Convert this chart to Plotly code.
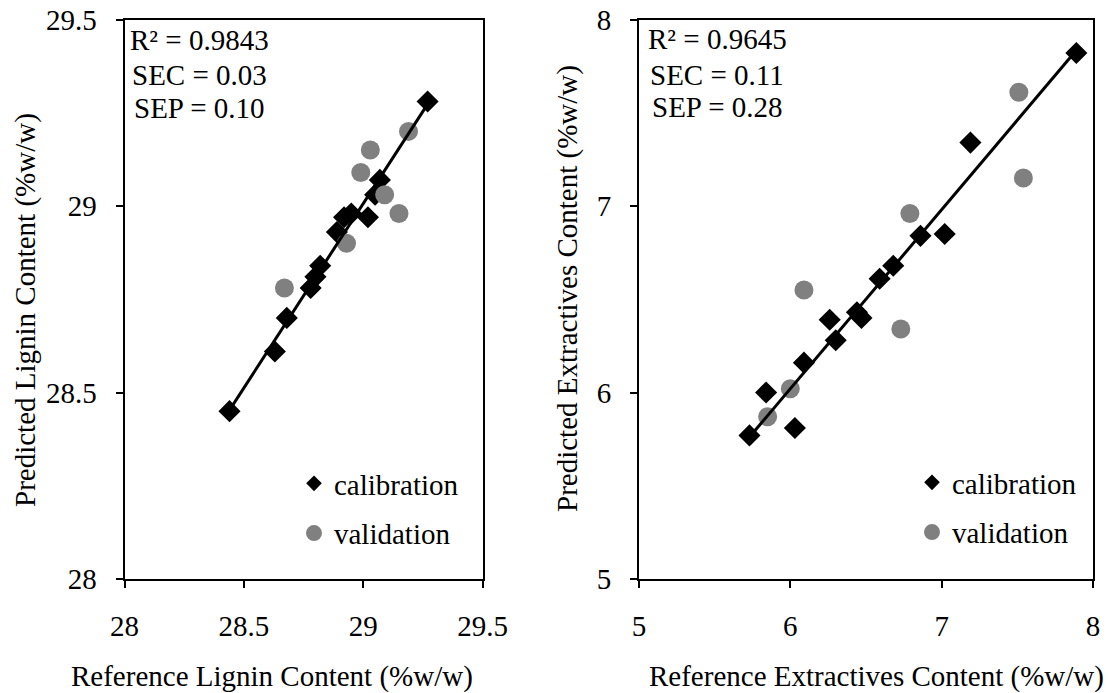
import numpy as np
import plotly.graph_objects as go

# Lignin content (%w/w): reference vs NIR-predicted
lignin_cal_ref = [28.44, 28.63, 28.68, 28.78, 28.80, 28.82, 28.89, 28.92, 28.95, 29.02, 29.05, 29.07, 29.27]
lignin_cal_pred = [28.45, 28.61, 28.70, 28.78, 28.81, 28.84, 28.93, 28.97, 28.98, 28.97, 29.03, 29.07, 29.28]
lignin_val_ref = [28.67, 28.93, 28.99, 29.03, 29.09, 29.15, 29.19]
lignin_val_pred = [28.78, 28.90, 29.09, 29.15, 29.03, 28.98, 29.20]

# Extractives content (%w/w): reference vs NIR-predicted
extr_cal_ref = [5.73, 5.84, 6.03, 6.09, 6.26, 6.30, 6.44, 6.47, 6.59, 6.68, 6.86, 7.02, 7.19, 7.89]
extr_cal_pred = [5.77, 6.00, 5.81, 6.16, 6.39, 6.28, 6.43, 6.40, 6.61, 6.68, 6.84, 6.85, 7.34, 7.82]
extr_val_ref = [5.85, 6.00, 6.09, 6.73, 6.79, 7.51, 7.54]
extr_val_pred = [5.87, 6.02, 6.55, 6.34, 6.96, 7.61, 7.15]

lignin_stats = ["R² = 0.9843", "SEC = 0.03", "SEP = 0.10"]
extr_stats = ["R² = 0.9645", "SEC = 0.11", "SEP = 0.28"]

lignin_ticks = [28, 28.5, 29, 29.5]
extr_ticks = [5, 6, 7, 8]

FONT = "Liberation Serif, Times New Roman, serif"
FS = 29
W, H = 1110, 693
GRAY = "#808080"


def px_x(p):
    return p / W


def px_y(p):
    return 1 - p / H


def fit_line(xs, ys):
    slope, intercept = np.polyfit(xs, ys, 1)
    x0, x1 = min(xs), max(xs)
    return [x0, x1], [slope * x0 + intercept, slope * x1 + intercept]


fig = go.Figure()


def add_panel(cal_x, cal_y, val_x, val_y, xa, ya, legend):
    fig.add_trace(go.Scatter(x=cal_x, y=cal_y, mode="markers", xaxis=xa, yaxis=ya,
                             marker=dict(symbol="diamond", size=17, color="black"),
                             showlegend=False, hoverinfo="x+y"))
    fig.add_trace(go.Scatter(x=val_x, y=val_y, mode="markers", xaxis=xa, yaxis=ya,
                             marker=dict(symbol="circle", size=19, color=GRAY),
                             showlegend=False, hoverinfo="x+y"))
    lx, ly = fit_line(cal_x, cal_y)
    fig.add_trace(go.Scatter(x=lx, y=ly, mode="lines", xaxis=xa, yaxis=ya,
                             line=dict(color="black", width=3),
                             showlegend=False, hoverinfo="skip"))
    # legend-only entries
    fig.add_trace(go.Scatter(x=[None], y=[None], mode="markers", xaxis=xa, yaxis=ya,
                             marker=dict(symbol="diamond", size=12, color="black"),
                             name="calibration", legend=legend, legendgroup=legend + "c"))
    fig.add_trace(go.Scatter(x=[None], y=[None], mode="markers", xaxis=xa, yaxis=ya,
                             marker=dict(symbol="circle", size=17, color=GRAY),
                             name="validation", legend=legend, legendgroup=legend + "v"))


add_panel(lignin_cal_ref, lignin_cal_pred, lignin_val_ref, lignin_val_pred, "x", "y", "legend")
add_panel(extr_cal_ref, extr_cal_pred, extr_val_ref, extr_val_pred, "x2", "y2", "legend2")

axis_common = dict(showline=True, linecolor="black", linewidth=2, mirror=True,
                   ticks="outside", ticklen=7, tickwidth=2, tickcolor="black",
                   showgrid=False, zeroline=False, automargin=False,
                   tickfont=dict(family=FONT, size=FS, color="black"))

ydom = [px_y(579), px_y(19.5)]

legend_common = dict(font=dict(family=FONT, size=FS, color="black"), bgcolor="rgba(0,0,0,0)",
                     xanchor="left", yanchor="top", tracegroupgap=9, itemsizing="trace",
                     traceorder="grouped")

fig.update_layout(
    template="none",
    width=W, height=H, autosize=False,
    margin=dict(l=0, r=0, t=0, b=0, pad=0, autoexpand=False),
    paper_bgcolor="white", plot_bgcolor="white",
    font=dict(family=FONT, size=FS, color="black"),
    xaxis=dict(domain=[px_x(124.5), px_x(482.5)], range=[28, 29.5], tickvals=lignin_ticks,
               anchor="y", ticklabelstandoff=13, **axis_common),
    yaxis=dict(domain=ydom, range=[28, 29.5], tickvals=lignin_ticks, anchor="x",
               ticklabelstandoff=13, **axis_common),
    xaxis2=dict(domain=[px_x(639), px_x(1093)], range=[5, 8], tickvals=extr_ticks,
                anchor="y2", ticklabelstandoff=13, **axis_common),
    yaxis2=dict(domain=ydom, range=[5, 8], tickvals=extr_ticks, anchor="x2",
                ticklabelstandoff=13, **axis_common),
    legend=dict(x=px_x(294), y=px_y(458), **legend_common),
    legend2=dict(x=px_x(912), y=px_y(457), **legend_common),
)

# statistics text blocks
for txt, yb in zip(lignin_stats, [49, 84, 117]):
    fig.add_annotation(text=txt, xref="paper", yref="paper", x=px_x(199.5), y=px_y(yb - 9),
                       xanchor="center", yanchor="middle", showarrow=False,
                       font=dict(family=FONT, size=FS, color="black"))
for txt, yb in zip(extr_stats, [48, 84, 116]):
    fig.add_annotation(text=txt, xref="paper", yref="paper", x=px_x(717), y=px_y(yb - 9),
                       xanchor="center", yanchor="middle", showarrow=False,
                       font=dict(family=FONT, size=FS, color="black"))

# axis titles
fig.add_annotation(text="Reference Lignin Content (%w/w)", xref="paper", yref="paper",
                   x=px_x(69), y=px_y(676), xanchor="left", yanchor="middle", showarrow=False,
                   font=dict(family=FONT, size=FS, color="black"))
fig.add_annotation(text="Reference Extractives Content (%w/w)", xref="paper", yref="paper",
                   x=px_x(647), y=px_y(676), xanchor="left", yanchor="middle", showarrow=False,
                   font=dict(family=FONT, size=FS, color="black"))
fig.add_annotation(text="Predicted Lignin Content (%w/w)", xref="paper", yref="paper",
                   x=px_x(25), y=px_y(310), xanchor="center", yanchor="middle", textangle=-90,
                   showarrow=False, font=dict(family=FONT, size=FS, color="black"))
fig.add_annotation(text="Predicted Extractives Content (%w/w)", xref="paper", yref="paper",
                   x=px_x(567), y=px_y(289), xanchor="center", yanchor="middle", textangle=-90,
                   showarrow=False, font=dict(family=FONT, size=FS, color="black"))

fig.write_html("out.html")
